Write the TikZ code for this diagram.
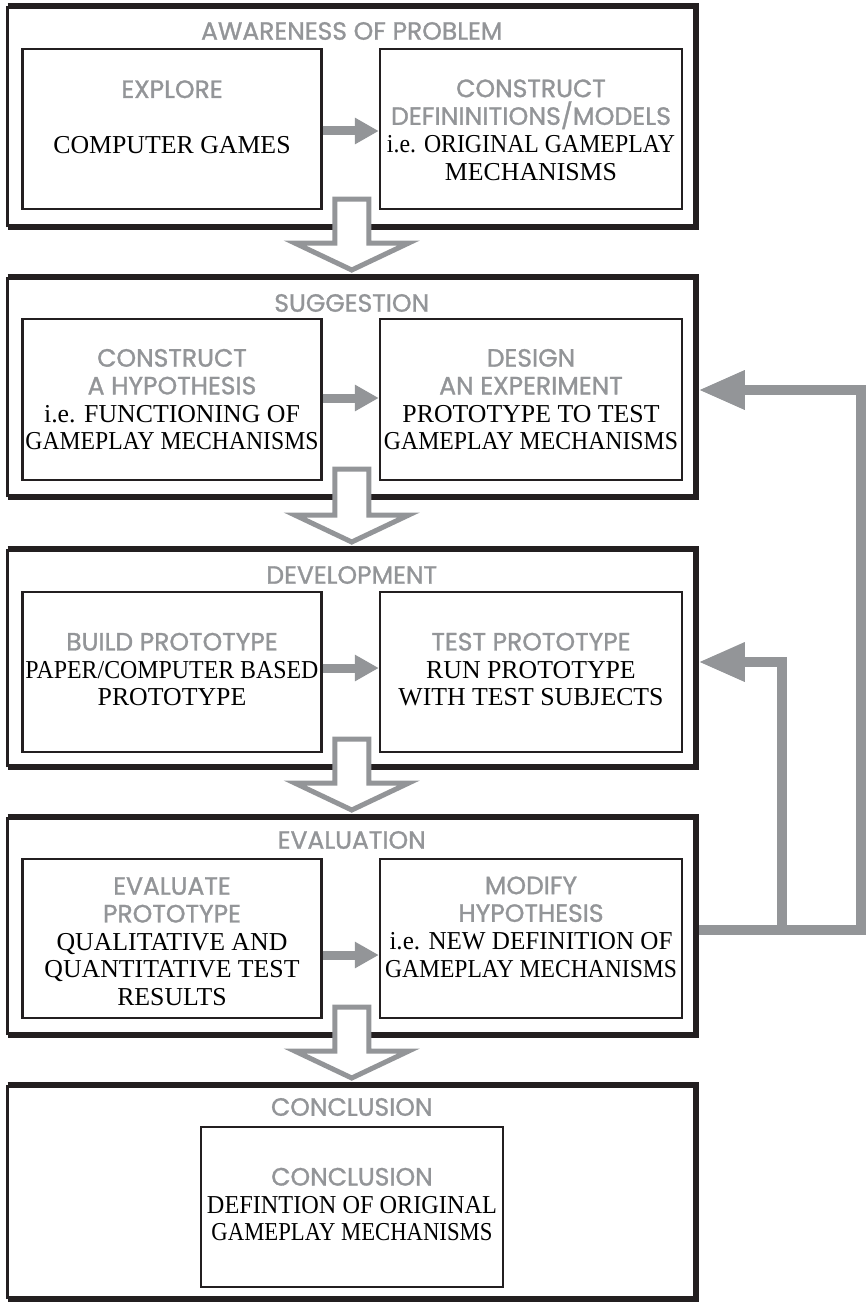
\documentclass[tikz,border=0pt]{standalone}
\usepackage{fontspec}
\usepackage{graphicx}
\setmainfont{Liberation Serif}
\newfontfamily\headfont{Poppins}[FakeBold=1.2]
\usetikzlibrary{arrows.meta,calc}

\definecolor{stepgray}{RGB}{147,149,152}
\definecolor{ink}{RGB}{35,31,32}

% grey sans heading line inside a box
\newcommand\hd[1]{{\headfont\fontsize{25}{27.7}\selectfont\color{stepgray}#1}}
% squeeze a line horizontally to a given width
\newcommand\fitw[2]{\resizebox{#1}{\height}{#2}}

\begin{document}
\begin{tikzpicture}[x=1pt,y=-1pt,
  phase/.style={rectangle, draw=none, outer sep=0pt, inner sep=0pt},
  phasethin/.style={draw=ink, line width=3pt},
  phasethick/.style={draw=ink, line width=5.5pt, line join=miter},
  taskbox/.style={rectangle, draw=ink, line width=2.4pt, fill=white, outer sep=0pt, inner sep=0pt},
  tasktext/.style={align=center, inner sep=0pt, font=\fontsize{25.8}{27.7}\selectfont, text=black},
  phasetitle/.style={inner sep=0pt, font=\headfont\fontsize{25}{27.7}\selectfont, text=stepgray},
  stepjoin/.style={draw=stepgray, line width=9pt, -{Triangle[length=24pt,width=25pt]}},
  phasearrow/.style={draw=stepgray, line width=5pt, fill=white, line join=miter},
  feedback/.style={draw=stepgray, line width=9.5pt, line join=miter, -{Triangle[length=46pt,width=37pt]}}]

\useasboundingbox (0,0) rectangle (867,1303);

% the five phases
\node[phase, minimum width=688.5pt, minimum height=221pt] (s1) at (351.75,116.5) {};
\node[phase, minimum width=688.5pt, minimum height=220pt] (s2) at (351.75,387) {};
\node[phase, minimum width=688.5pt, minimum height=218pt] (s3) at (351.75,658) {};
\node[phase, minimum width=688.5pt, minimum height=218pt] (s4) at (351.75,926) {};
\node[phase, minimum width=688.5pt, minimum height=214pt] (s5) at (351.75,1192) {};

\foreach \s in {s1,s2,s3,s4,s5}{
  \draw[phasethin] (\s.south west) -- (\s.north west);
  \draw[phasethick] (\s.north west) -- (\s.north east) -- (\s.south east) -- (\s.south west);
}

% phase titles
\node[phasetitle] (h1) at ([yshift=-25pt]s1.north) {AWARENESS OF PROBLEM};
\node[phasetitle] (h2) at ([yshift=-26pt]s2.north) {SUGGESTION};
\node[phasetitle] (h3) at ([yshift=-26pt]s3.north) {DEVELOPMENT};
\node[phasetitle] (h4) at ([yshift=-23pt]s4.north) {EVALUATION};
\node[phasetitle] (h5) at ([yshift=-22pt]s5.north) {CONCLUSION};

% steps inside the phases
\node[taskbox, minimum width=299pt, minimum height=160pt] (a1) at (172,129) {};
\node[taskbox, minimum width=302pt, minimum height=160pt] (b1) at (531,129) {};
\node[taskbox, minimum width=299pt, minimum height=161pt] (a2) at (172,399.5) {};
\node[taskbox, minimum width=302pt, minimum height=161pt] (b2) at (531,399.5) {};
\node[taskbox, minimum width=299pt, minimum height=160pt] (a3) at (172,672) {};
\node[taskbox, minimum width=302pt, minimum height=160pt] (b3) at (531,672) {};
\node[taskbox, minimum width=299pt, minimum height=159pt] (a4) at (172,938.5) {};
\node[taskbox, minimum width=302pt, minimum height=159pt] (b4) at (531,938.5) {};
\node[taskbox, minimum width=302pt, minimum height=160pt] (c5) at (352,1207) {};

\node[tasktext] (ta1) at ([yshift=12pt]a1.center) {\hd{EXPLORE}\\[27.7pt]COMPUTER GAMES};
\node[tasktext] (tb1) at ([yshift=-1pt]b1.center) {\hd{CONSTRUCT}\\\fitw{280pt}{\hd{DEFININITIONS/MODELS}}\\\fitw{288pt}{i.e. ORIGINAL GAMEPLAY}\\MECHANISMS};
\node[tasktext] (ta2) at (a2.center) {\hd{CONSTRUCT}\\\hd{A HYPOTHESIS}\\i.e. FUNCTIONING OF\\\fitw{293pt}{GAMEPLAY MECHANISMS}};
\node[tasktext] (tb2) at (b2.center) {\hd{DESIGN}\\\hd{AN EXPERIMENT}\\PROTOTYPE TO TEST\\\fitw{294pt}{GAMEPLAY MECHANISMS}};
\node[tasktext] (ta3) at ([yshift=2.5pt]a3.center) {\hd{BUILD PROTOTYPE}\\\fitw{293pt}{PAPER/COMPUTER BASED}\\PROTOTYPE};
\node[tasktext] (tb3) at ([yshift=2.5pt]b3.center) {\hd{TEST PROTOTYPE}\\RUN PROTOTYPE\\WITH TEST SUBJECTS};
\node[tasktext] (ta4) at ([yshift=-3pt]a4.center) {\hd{EVALUATE}\\\hd{PROTOTYPE}\\QUALITATIVE AND\\QUANTITATIVE TEST\\RESULTS};
\node[tasktext] (tb4) at ([yshift=11.5pt]b4.center) {\hd{MODIFY}\\\hd{HYPOTHESIS}\\\fitw{283pt}{i.e. NEW DEFINITION OF}\\\fitw{292pt}{GAMEPLAY MECHANISMS}};
\node[tasktext] (tc5) at ([yshift=2.5pt]c5.center) {\hd{CONCLUSION}\\\fitw{290pt}{DEFINTION OF ORIGINAL}\\\fitw{281pt}{GAMEPLAY MECHANISMS}};

% arrows between the two steps of a phase
\draw[stepjoin] ([xshift=1.2pt,yshift=-2pt]a1.east) -- ([xshift=-1.2pt,yshift=-2pt]b1.west);
\draw[stepjoin] ([xshift=1.2pt,yshift=1.5pt]a2.east) -- ([xshift=-1.2pt,yshift=1.5pt]b2.west);
\draw[stepjoin] ([xshift=1.2pt,yshift=4pt]a3.east) -- ([xshift=-1.2pt,yshift=4pt]b3.west);
\draw[stepjoin] ([xshift=1.2pt,yshift=-16.5pt]a4.east) -- ([xshift=-1.2pt,yshift=-16.5pt]b4.west);

% hollow arrows from one phase to the next
\foreach \a/\b in {s1/s2,s2/s3,s3/s4,s4/s5}
  \draw[phasearrow] ($(\a.south)+(-17,-28)$) -- ($(\b.north)+(-17,-34)$)
    -- ($(\b.north)+(-57,-34)$) -- ($(\b.north)+(0,-7)$)
    -- ($(\b.north)+(57,-34)$) -- ($(\b.north)+(17,-34)$)
    -- ($(\a.south)+(17,-28)$) -- cycle;

% feedback from evaluation back to suggestion and development
\coordinate (rail) at (861,0);
\coordinate (fork) at (782,0);
\coordinate (fbout) at ([xshift=2.75pt,yshift=-4pt]s4.east);
\coordinate (fbtop) at ([xshift=2.75pt,yshift=-3pt]s2.east);
\coordinate (fbmid) at ([xshift=2.75pt,yshift=-4pt]s3.east);
\draw[feedback] (fbout) -- (fbout -| rail) -- (fbtop -| rail) -- (fbtop);
\draw[feedback] (fbout -| fork) -- (fbmid -| fork) -- (fbmid);

\end{tikzpicture}
\end{document}
